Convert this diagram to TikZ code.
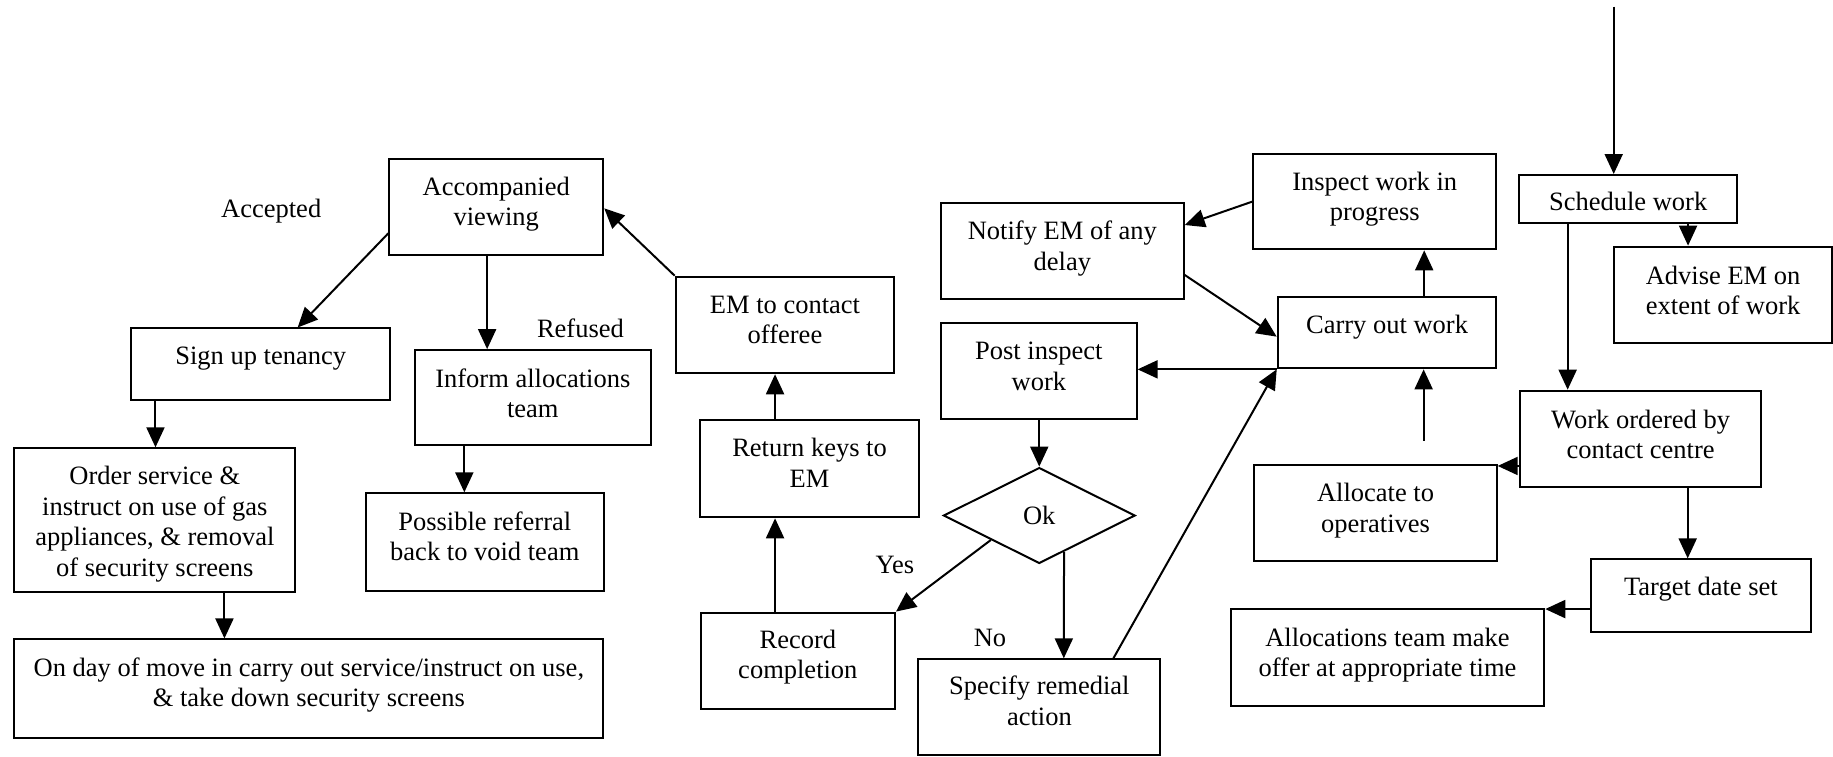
\documentclass[tikz,border=0pt]{standalone}
\usepackage{fontspec}
\setmainfont{Liberation Serif}
\usetikzlibrary{arrows.meta,calc,shapes.geometric}
\newcommand\txtup[1]{\rule[-#1]{0pt}{#1}}
\newcommand\txtdn[1]{\rule{0pt}{#1}}
\tikzset{
  every node/.style={font=\fontsize{26.5}{30.4}\selectfont},
  box/.style={draw, line width=2pt, inner sep=0pt, align=center},
  boxat/.style n args={4}{at={({(#1+#3)/2},{(#2+#4)/2})},
     minimum width={(#3-#1)*1.169pt}, minimum height={(#4-#2)*1.169pt}},
  lbl/.style={inner sep=0pt},
  arr/.style={line width=2pt, -{Triangle[length=20pt,width=18pt]}},
}
\begin{document}
\begin{tikzpicture}[x=1.169pt,y=-1.169pt]
\useasboundingbox (0,0) rectangle (1568,647);
% left part
\node[box, boxat={333}{136}{516}{218.5}] (acc) {Accompanied\\viewing\txtup{11.9pt}};
\node[box, boxat={112}{281}{334}{342}] (sign) {Sign up tenancy\txtup{17.2pt}};
\node[box, boxat={354.6}{299.5}{557}{381}] (inform) {Inform allocations\\team\txtup{9.6pt}};
\node[box, boxat={12.4}{383.5}{252.5}{506.7}] (order) {\txtdn{26.1pt}Order service \&\\instruct on use of gas\\appliances, \& removal\\of security screens};
\node[box, boxat={313}{422}{516.4}{505.3}] (poss) {Possible referral\\back to void team\txtup{11.4pt}};
\node[box, boxat={12.4}{547}{516}{631}] (onday) {On day of move in carry out service/instruct on use,\\\& take down security screens\txtup{12.8pt}};
\node[lbl] (accepted) at (232,180.5) {Accepted};
\node[lbl] (refused) at (496.5,280.6) {Refused};
% middle part
\node[box, boxat={578}{236.7}{765}{319.3}] (emc) {EM to contact\\offeree\txtup{10.6pt}};
\node[box, boxat={599}{359.3}{786}{442.5}] (ret) {Return keys to\\EM\txtup{11.7pt}};
\node[box, boxat={599.4}{524}{765.6}{606.5}] (rec) {Record\\completion\txtup{12.4pt}};
\node[box, boxat={805}{174}{1012.6}{256}] (notify) {Notify EM of any\\delay\txtup{11.2pt}};
\node[box, boxat={805}{276}{972.3}{358.7}] (post) {Post inspect\\work\txtup{9.45pt}};
\node[draw, diamond, line width=2pt, inner sep=0pt, aspect=2,
      minimum width=191.7pt, minimum height=95.9pt] (ok) at (889,441) {Ok};
\node[box, boxat={785.6}{564}{992.6}{645.6}] (spec) {Specify remedial\\action\txtup{12.5pt}};
\node[lbl] (yes) at (765.6,483.3) {Yes};
\node[lbl] (no) at (846.9,545.5) {No};
% right part
\node[box, boxat={1072}{131.7}{1280}{213.3}] (insp) {Inspect work in\\progress\txtup{10.7pt}};
\node[box, boxat={1093}{253.8}{1280}{315.1}] (carry) {Carry out work\txtup{15.9pt}};
\node[box, boxat={1299.5}{149.7}{1486}{191}] (sched) {\txtdn{22.5pt}Schedule work};
\node[box, boxat={1381}{211}{1567}{293.7}] (advise) {Advise EM on\\extent of work\txtup{9.8pt}};
\node[box, boxat={1300.3}{334.2}{1506.6}{416.5}] (wo) {Work ordered by\\contact centre\txtup{8.4pt}};
\node[box, boxat={1073}{397.8}{1280.3}{480}] (alloc) {Allocate to\\operatives\txtup{10.3pt}};
\node[box, boxat={1361}{478.5}{1549}{540.4}] (tgt) {Target date set\txtup{18.5pt}};
\node[box, boxat={1052.8}{521}{1321}{603.5}] (offer) {Allocations team make\\offer at appropriate time\txtup{9.7pt}};
\coordinate (topin) at (1380.4,5.7);
\coordinate (freein) at (1217.8,377.2);
% connectors left
\draw[arr] (acc.west |- 0,199.6) -- (sign.north -| 254.6,0);
\draw[arr] (acc.south -| 416.7,0) -- (inform.north -| 416.7,0);
\draw[arr] (sign.south -| 133,0) -- (order.north -| 133,0);
\draw[arr] (order.south -| 192,0) -- (onday.north -| 192,0);
\draw[arr] (inform.south -| 397.2,0) -- (poss.north -| 397.2,0);
% connectors middle
\draw[arr] (emc.north west) -- (acc.east |- 0,178.2);
\draw[arr] (ret.north -| 663,0) -- (emc.south -| 663,0);
\draw[arr] (rec.north -| 663,0) -- (ret.south -| 663,0);
\draw[arr] (ok.south west) -- (rec.north east);
\draw[arr] ($(ok.south)!0.256!(ok.east)$) -- (spec.north -| 910,0);
\draw[arr] (post.south -| ok.north) -- (ok.north);
\draw[arr] (spec.north -| 952.4,0) -- (carry.south west);
\draw[arr] (carry.south west) -- (post.east |- carry.south west);
\draw[arr] (notify.east |- 0,235.2) -- (carry.west |- 0,288);
\draw[arr] (insp.west |- 0,172.5) -- (notify.east |- 0,192.5);
% connectors right
\draw[arr] (carry.north -| 1218.3,0) -- (insp.south -| 1218.3,0);
\draw[arr] (freein) -- (carry.south -| freein);
\draw[arr] (topin) -- (sched.north -| topin);
\draw[arr] (sched.south -| 1444,0) -- (advise.north -| 1444,0);
\draw[arr] (sched.south -| 1341,0) -- (wo.north -| 1341,0);
\draw[arr] (wo.west |- 0,398.6) -- (alloc.east |- 0,398.6);
\draw[arr] (wo.south -| 1443.7,0) -- (tgt.north -| 1443.7,0);
\draw[arr] (tgt.west |- 0,521) -- (offer.east |- 0,521);
\end{tikzpicture}
\end{document}
